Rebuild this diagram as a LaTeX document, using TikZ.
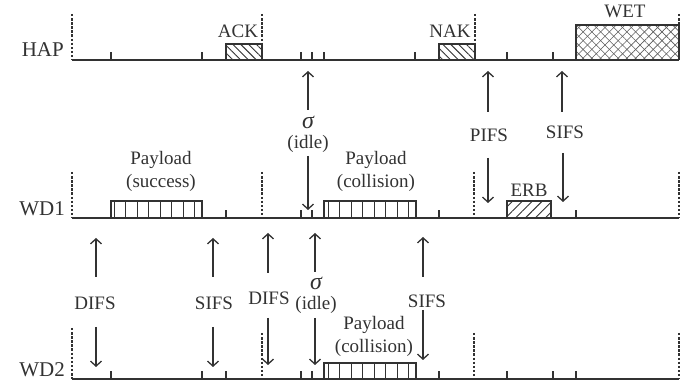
\documentclass[tikz,border=0pt]{standalone}
\usepackage{fontspec}
\setmainfont{Liberation Serif}
\usetikzlibrary{arrows.meta,patterns.meta}
\definecolor{ink}{RGB}{50,50,50}
\begin{document}
\begin{tikzpicture}[x=1pt,y=-1pt,
  axis/.style={line width=2pt, draw=ink},
  boxline/.style={line width=1.8pt, draw=ink},
  tickmark/.style={line width=1.4pt, draw=ink},
  dashline/.style={line width=1.3pt, draw=ink, dash pattern=on 2.5pt off 1.6pt},
  stripe/.style={line width=0.9pt, draw=ink},
  arr/.style={line width=1.3pt, draw=ink, -{Straight Barb[length=5pt,width=11pt,line width=1.3pt]}},
  lbl/.style={font=\fontsize{19}{22}\selectfont, text=ink, inner sep=0pt, anchor=base},
  sig/.style={font=\fontsize{24}{27}\selectfont\itshape, text=ink, inner sep=0pt, anchor=base},
  rowlbl/.style={font=\fontsize{21}{24}\selectfont, text=ink, inner sep=0pt, anchor=base east}]
\useasboundingbox (0,0) rectangle (697,387);

% ---------- row labels ----------
\node[rowlbl] (hap) at (64,57) {HAP};
\node[rowlbl] (wd1) at (65,216) {WD1};
\node[rowlbl] (wd2) at (65,377) {WD2};

% ---------- boxes (drawn before axes) ----------
% HAP
\fill[pattern={Lines[angle=-45,distance=5.5pt,line width=0.9pt]}, pattern color=ink] (226,44) rectangle (262,60);
\draw[boxline] (226,60) -- (226,44) -- (262,44) -- (262,60);
\fill[pattern={Lines[angle=-45,distance=5.5pt,line width=0.9pt]}, pattern color=ink] (439,44) rectangle (475,60);
\draw[boxline] (439,60) -- (439,44) -- (475,44) -- (475,60);
\fill[pattern={Lines[angle=45,distance=6.2pt,line width=0.6pt]}, pattern color=ink!80] (576,25) rectangle (679,60);
\fill[pattern={Lines[angle=-45,distance=6.2pt,line width=0.6pt]}, pattern color=ink!80] (576,25) rectangle (679,60);
\draw[boxline] (576,60) -- (576,25) -- (679,25) -- (679,60);
% WD1
\draw[boxline] (111,218) -- (111,201) -- (202,201) -- (202,218);
\foreach \i in {0,...,7} \draw[stripe] (114+\i*11.5,201) -- (114+\i*11.5,218);
\draw[boxline] (324,218) -- (324,201) -- (416,201) -- (416,218);
\foreach \i in {0,...,7} \draw[stripe] (328+\i*11.5,201) -- (328+\i*11.5,218);
\fill[pattern={Lines[angle=45,distance=7pt,line width=0.9pt]}, pattern color=ink] (507,201) rectangle (551,218);
\draw[boxline] (507,218) -- (507,201) -- (551,201) -- (551,218);
% WD2
\draw[boxline] (324,379) -- (324,363) -- (416,363) -- (416,379);
\foreach \i in {0,...,7} \draw[stripe] (328+\i*11.5,363) -- (328+\i*11.5,379);

% ---------- axes ----------
\coordinate (hapL) at (72,60);  \coordinate (hapR) at (679,60);
\coordinate (wdaL) at (72,218); \coordinate (wdaR) at (679,218);
\coordinate (wdbL) at (72,379); \coordinate (wdbR) at (679,379);
\draw[axis] (hapL) -- (hapR);
\draw[axis] (wdaL) -- (wdaR);
\draw[axis] (wdbL) -- (wdbR);

% ---------- ticks ----------
\foreach \x in {111,202,301,312,324,415,507,553} \draw[tickmark] (\x,60) -- (\x,52);
\foreach \x in {226,301,312,439,576} \draw[tickmark] (\x,218) -- (\x,210);
\foreach \x in {111,202,226,301,312,439,507,553,576} \draw[tickmark] (\x,379) -- (\x,371);

% ---------- dashed markers ----------
\draw[dashline] (72,14) -- (72,60);
\draw[dashline] (262,14) -- (262,44);
\draw[dashline] (475,14) -- (475,44);
\draw[dashline] (679,14) -- (679,25);
\foreach \x in {72,262,474,679} \draw[dashline] (\x,172) -- (\x,218);
\draw[dashline] (72,328) -- (72,379);
\foreach \x in {262,474,679} \draw[dashline] (\x,333) -- (\x,379);

% ---------- box labels ----------
\node[lbl] (ack) at (238,38) {ACK};
\node[lbl] (nak) at (450,38) {NAK};
\node[lbl] (wet) at (625,18) {WET};
\node[lbl] (p1a) at (161,165) {Payload};
\node[lbl] (p1b) at (161,188) {(success)};
\node[lbl] (p2a) at (376,165) {Payload};
\node[lbl] (p2b) at (376,188) {(collision)};
\node[lbl] (erb) at (529,197) {ERB};
\node[lbl] (p3a) at (374,330) {Payload};
\node[lbl] (p3b) at (374,353) {(collision)};

% ---------- interval labels ----------
\node[sig] (sg1) at (308,129) {σ};
\node[lbl] (id1) at (308,149) {(idle)};
\node[lbl] (pifs) at (489,142) {PIFS};
\node[lbl] (sifs1) at (565,139) {SIFS};
\node[lbl] (difs1) at (95,310) {DIFS};
\node[lbl] (sifs2) at (214,310) {SIFS};
\node[lbl] (difs2) at (269,305) {DIFS};
\node[sig] (sg2) at (316,290) {σ};
\node[lbl] (id2) at (316,310) {(idle)};
\node[lbl] (sifs3) at (427,308) {SIFS};

% ---------- arrows ----------
\foreach \n/\x/\ya/\yb in {
  su/308/110/71, sd/308/156/210,
  pu/488/112/71, pd/488/158/203,
  fu/562/112/71, fd/563/153/202,
  au/96/277/238, ad/96/327/367,
  bu/213/277/238, bd/213/327/367,
  cu/268/273/233, cd/268/318/365,
  du/315/272/233, dd/315/318/365,
  eu/423/277/237, ed/423/310/360} {
  \coordinate (\n s) at (\x,\ya);
  \coordinate (\n e) at (\x,\yb);
  \draw[arr] (\n s) -- (\n e);
}
\end{tikzpicture}
\end{document}
